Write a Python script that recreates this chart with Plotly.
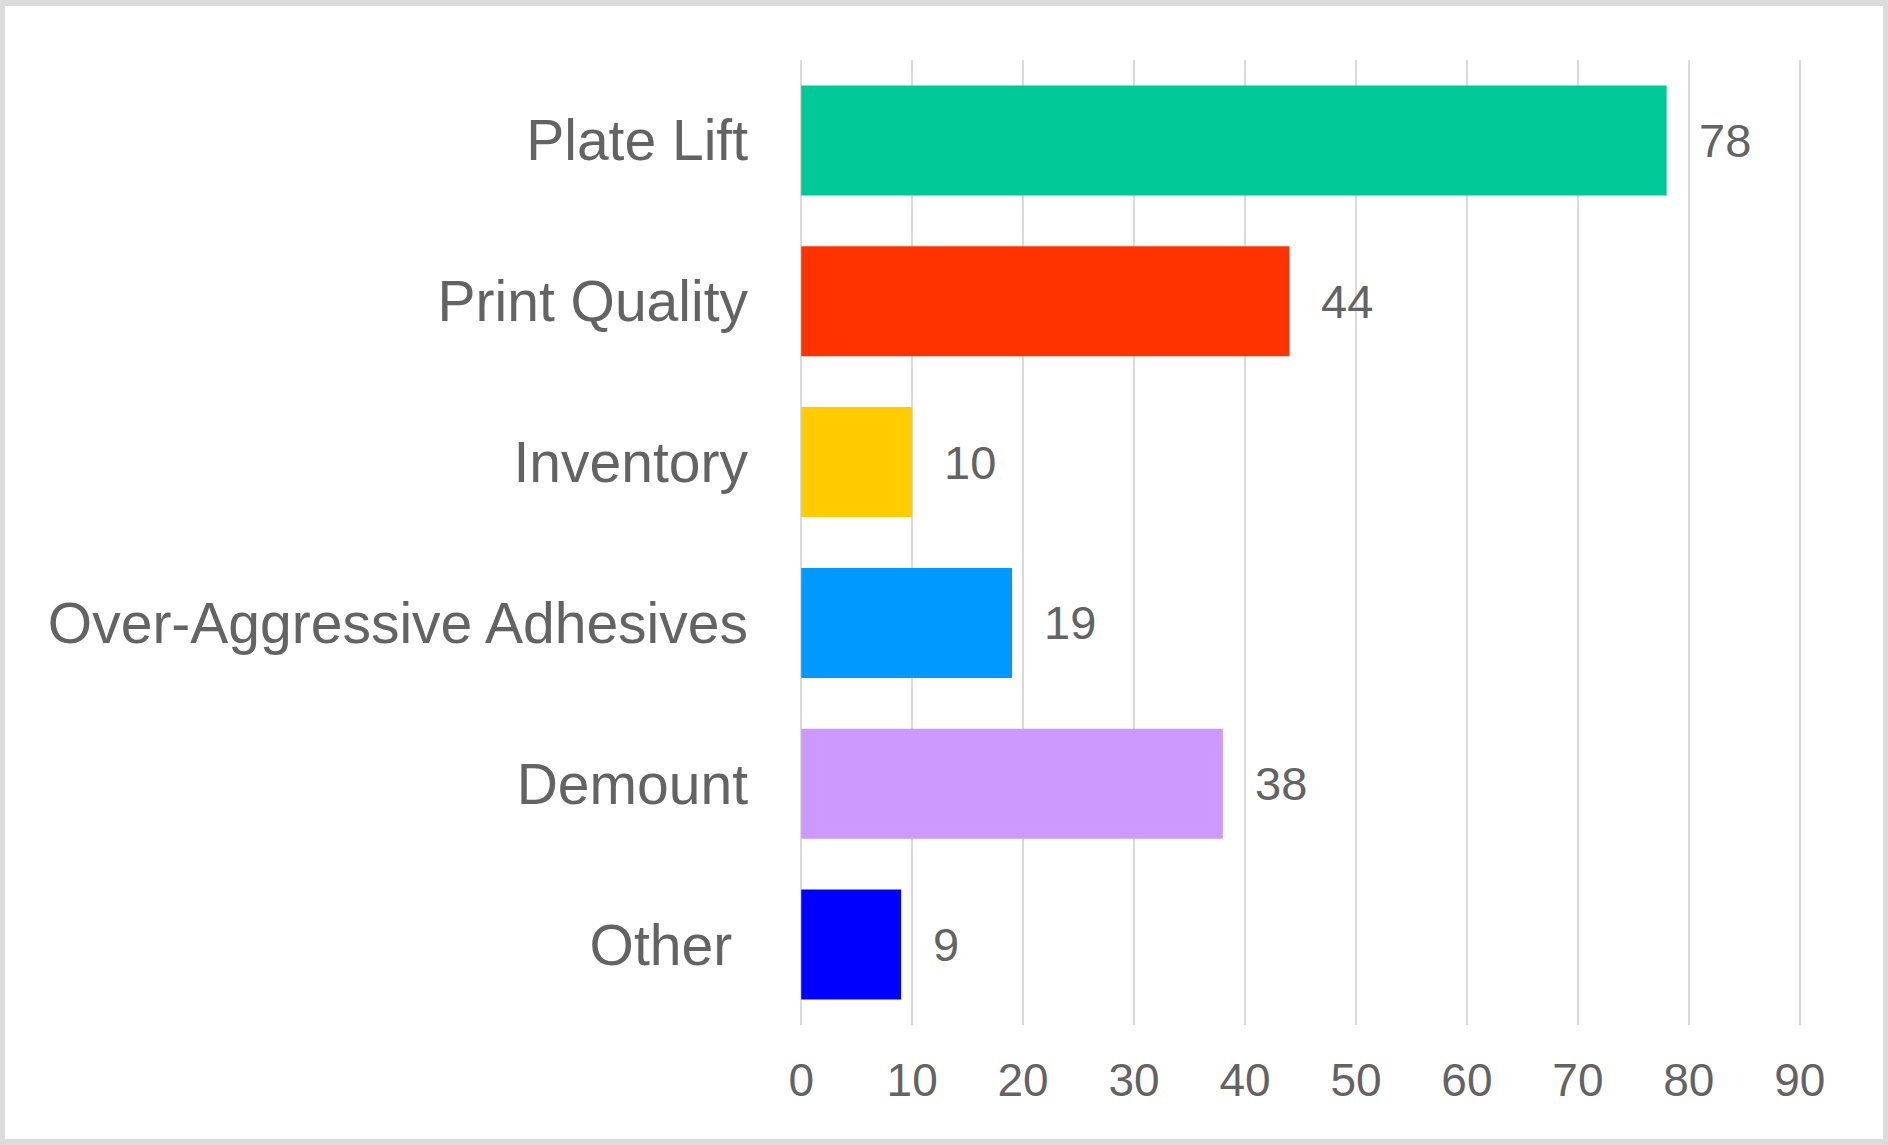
import plotly.graph_objects as go

categories = ["Plate Lift", "Print Quality", "Inventory",
              "Over-Aggressive Adhesives", "Demount", "Other\u00a0"]
counts = [78, 44, 10, 19, 38, 9]
bar_colors = ["#00C896", "#FF3300", "#FFCC00", "#0099FF", "#CC99FF", "#0000FF"]
x_ticks = [0, 10, 20, 30, 40, 50, 60, 70, 80, 90]

W, H = 1888, 1145
L, R, T, B = 799, 86, 60, 120
TEXT = "#636363"
FONT = "Liberation Sans, Arial, sans-serif"

fig = go.Figure()
fig.add_trace(
    go.Bar(
        x=counts,
        y=categories,
        orientation="h",
        marker={"color": bar_colors, "line": {"width": 0}},
        hoverinfo="x+y",
    )
)

# value labels sit a bit right of each bar end
for cat, val in zip(categories, counts):
    fig.add_annotation(
        x=val, y=cat, text=str(val), showarrow=False,
        xanchor="left", xshift=30,
        font={"size": 47, "color": TEXT, "family": FONT},
    )

# light grey frame round the white chart area
pw, ph = W - L - R, H - T - B
fig.add_shape(
    type="rect", xref="paper", yref="paper", layer="below",
    x0=(5 - L) / pw, x1=(W - 5 - L) / pw,
    y0=(H - B - (H - 6)) / ph, y1=(H - B - 6) / ph,
    fillcolor="white", line={"width": 0},
)

fig.update_layout(
    width=W,
    height=H,
    margin={"l": L, "r": R, "t": T, "b": B, "pad": 0},
    paper_bgcolor="#DCDCDC",
    plot_bgcolor="rgba(0,0,0,0)",
    bargap=0.316,
    showlegend=False,
    font={"family": FONT, "color": TEXT},
    xaxis={
        # a hair wider than 0..90 so the end gridlines are drawn
        "range": [-0.2, 90.2],
        "tickvals": x_ticks,
        "showgrid": True,
        "gridcolor": "#DADADA",
        "gridwidth": 2,
        "zeroline": False,
        "showline": False,
        "ticks": "",
        "tickfont": {"size": 46, "color": TEXT},
        "ticklabelstandoff": 24,
        "fixedrange": True,
    },
    yaxis={
        "autorange": "reversed",
        "showgrid": False,
        "zeroline": False,
        "showline": False,
        "ticks": "",
        "tickfont": {"size": 57, "color": TEXT},
        "ticklabelstandoff": 50,
        "fixedrange": True,
    },
)

fig.write_html(
    "out.html",
    config={"displayModeBar": False},
    post_script="document.body.style.margin='0';document.body.style.overflow='hidden';",
)
